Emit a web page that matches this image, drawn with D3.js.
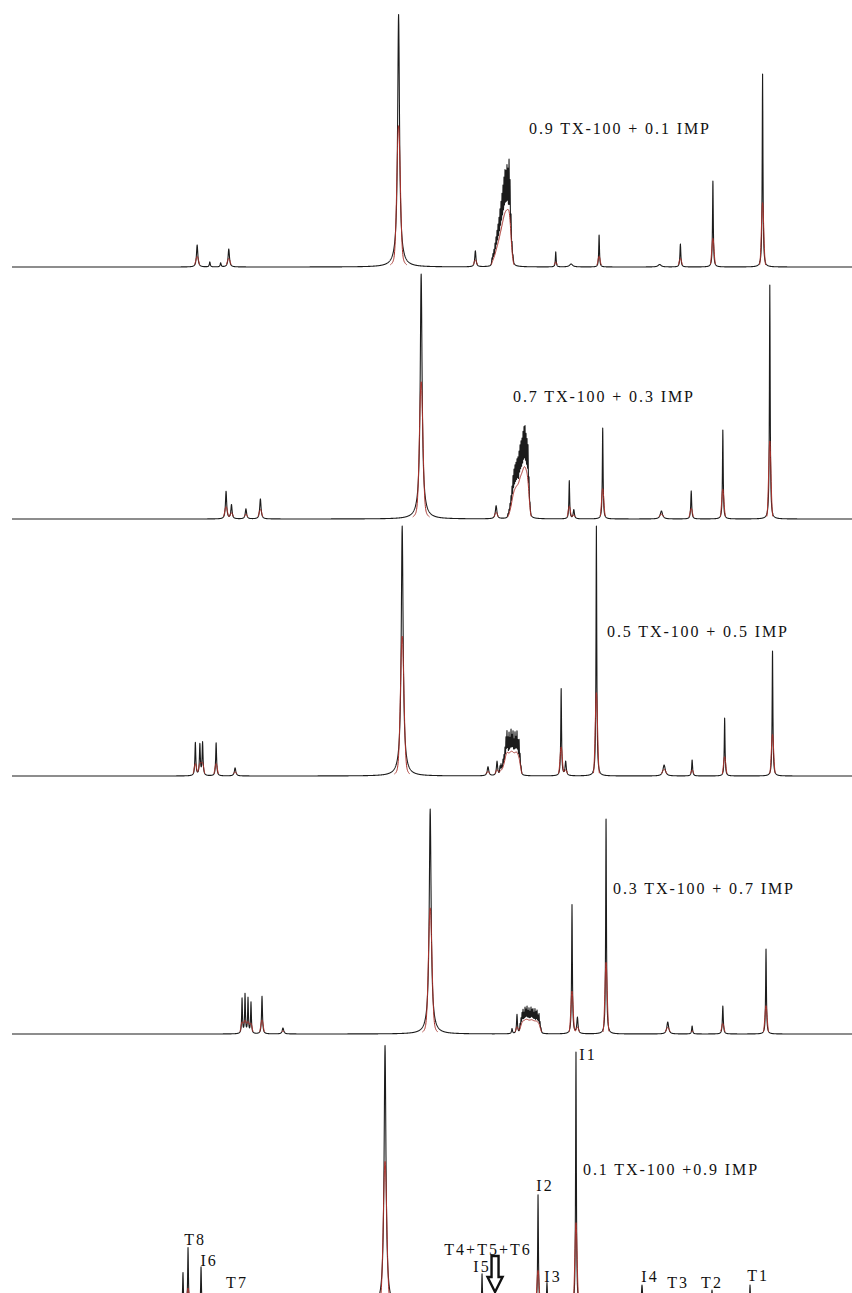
<!DOCTYPE html>
<html>
<head>
<meta charset="utf-8">
<script src="https://cdn.jsdelivr.net/npm/d3@7"></script>
<style>
  html, body { margin: 0; padding: 0; background: #fff; }
  svg { display: block; }
</style>
</head>
<body>
<svg id="chart" width="852" height="1293"></svg>
<script>
// Chemical-shift window in ppm (downfield on the left)
const shiftRange = [9.0, -0.3];

// Mixture composition of each stacked 1H spectrum, top to bottom
const compositions = [
  "0.9 TX-100 + 0.1 IMP",
  "0.7 TX-100 + 0.3 IMP",
  "0.5 TX-100 + 0.5 IMP",
  "0.3 TX-100 + 0.7 IMP",
  "0.1 TX-100 +0.9 IMP"
];

// Resolved lines: [shift (ppm), intensity, half-width (ppm)]
const peaks09 = [
  [6.95, 8.8, 0.009], [6.81, 2.0, 0.006], [6.69, 1.6, 0.006], [6.60, 7.2, 0.009],
  [4.72, 96, 0.012], [4.72, 5, 0.05], [3.87, 6.4, 0.008],
  [2.98, 6.0, 0.005], [2.81, 1.2, 0.02], [2.50, 12.8, 0.005], [1.83, 1.0, 0.02],
  [1.60, 9.2, 0.006], [1.24, 34.4, 0.005], [0.69, 77.2, 0.005]
];
const peaks07 = [
  [6.63, 11, 0.008], [6.57, 5.6, 0.008], [6.41, 4.0, 0.009], [6.25, 8.0, 0.009],
  [4.47, 93, 0.012], [4.47, 5, 0.05], [3.64, 5.2, 0.01],
  [2.83, 15.2, 0.005], [2.78, 3.6, 0.008], [2.46, 36.4, 0.005], [1.81, 3.2, 0.015],
  [1.48, 11.2, 0.006], [1.13, 35.6, 0.005], [0.61, 93.6, 0.005]
];
const peaks05 = [
  [6.97, 13.2, 0.006], [6.92, 12.4, 0.006], [6.89, 13.2, 0.006], [6.74, 13.2, 0.006],
  [6.53, 3.2, 0.01], [4.68, 95, 0.012], [4.68, 5, 0.045], [3.73, 3.6, 0.01],
  [3.63, 5.6, 0.008], [2.92, 34.8, 0.005], [2.87, 5.6, 0.008], [2.53, 100, 0.005],
  [1.78, 4.4, 0.015], [1.47, 6.4, 0.006], [1.11, 23.2, 0.005], [0.58, 50, 0.005]
];
const peaks03 = [
  [6.453, 14, 0.005], [6.420, 15.6, 0.005], [6.387, 14, 0.005], [6.354, 12.4, 0.005],
  [6.232, 15, 0.006], [6.000, 2.4, 0.01], [4.37, 85, 0.012], [4.37, 5, 0.045],
  [3.464, 2.0, 0.006], [3.409, 7.6, 0.006], [2.80, 51.6, 0.005], [2.74, 6.4, 0.008],
  [2.423, 86, 0.005], [1.74, 4.8, 0.012], [1.47, 3.2, 0.006], [1.13, 11.2, 0.006],
  [0.652, 34, 0.005]
];
const peaks01 = [
  [7.107, 14, 0.005], [7.051, 24, 0.005], [6.907, 16.4, 0.005], [6.520, 5, 0.008],
  [4.870, 100, 0.012], [4.870, 5, 0.045], [3.796, 13.6, 0.005], [3.176, 45.2, 0.005],
  [3.077, 10, 0.006], [2.756, 102.4, 0.005], [2.025, 9.2, 0.008], [1.626, 5, 0.008],
  [1.250, 7.2, 0.006], [0.829, 9.2, 0.005]
];

// Oxyethylene multiplet components: [shift (ppm), intensity]
const multiplet09 = [
  [3.686, 2.5], [3.675, 3.7], [3.664, 4.9], [3.652, 6.8], [3.641, 8.6], [3.630, 10.5],
  [3.619, 12.3], [3.608, 14.2], [3.597, 16.9], [3.586, 19.1], [3.575, 21.5], [3.564, 24.0],
  [3.553, 26.5], [3.542, 29.2], [3.531, 28.3], [3.520, 30.8], [3.509, 29.5], [3.497, 34.5],
  [3.486, 27], [3.475, 15], [3.464, 6], [3.453, 2.5]
];
const multiplet07 = [
  [3.509, 1.2], [3.497, 2.4], [3.486, 4.1], [3.475, 6.5], [3.464, 9.4], [3.453, 12.9],
  [3.442, 14.7], [3.431, 15.9], [3.420, 16.5], [3.409, 17.6], [3.398, 18.2], [3.386, 20],
  [3.375, 21.8], [3.364, 22.9], [3.353, 23.5], [3.342, 25.9], [3.331, 27.6], [3.320, 28.2],
  [3.309, 25.3], [3.298, 24.1], [3.287, 23.5], [3.276, 11.8], [3.265, 3.5]
];
const multiplet05 = [
  [3.597, 2.9], [3.586, 3.5], [3.575, 2.4], [3.564, 4.7], [3.553, 5.9], [3.542, 8.2],
  [3.531, 11.8], [3.520, 14.1], [3.509, 11.2], [3.497, 13.5], [3.486, 10.6], [3.475, 14.4],
  [3.464, 11.8], [3.453, 13.8], [3.442, 10], [3.431, 13.5], [3.420, 11.2], [3.409, 14.1],
  [3.398, 10.6], [3.386, 11.8], [3.375, 6.5], [3.364, 2.4]
];
const multiplet03 = [
  [3.375, 2.9], [3.364, 4.7], [3.353, 6.5], [3.342, 7.6], [3.331, 5.9], [3.320, 8.2],
  [3.309, 7.1], [3.298, 8.5], [3.287, 6.5], [3.276, 7.9], [3.265, 6.2], [3.254, 8.2],
  [3.243, 7.1], [3.232, 7.6], [3.221, 5.9], [3.210, 7.9], [3.198, 6.5], [3.187, 7.4],
  [3.176, 5.3], [3.165, 6.5], [3.154, 3.5], [3.143, 1.5]
];
const multiplet01 = [
  [3.686, 2], [3.675, 3], [3.664, 4], [3.652, 5], [3.641, 4], [3.630, 3]
];

// Signal assignments in the 0.1 TX-100 spectrum: [label, shift (ppm)]
const assignments = [
  ["I1", 2.756], ["I2", 3.176], ["I3", 3.077], ["I4", 2.025], ["I5", 3.796],
  ["I6", 6.907], ["T1", 0.829], ["T2", 1.250], ["T3", 1.626], ["T7", 6.520],
  ["T8", 7.051], ["T4+T5+T6", 3.652]
];

// ---------------------------------------------------------------------------
const W = 852, H = 1293;
const MULT_WIDTH = 0.004;   // half-width of multiplet components
const BROADEN = 0.01;       // extra broadening of the smoothed (red) trace
const baselines = [267, 519, 776, 1034, 1308];
const unitPx = 2.5;
const textAnchors = [[529, 134], [513, 402], [607, 637], [613, 894], [583, 1175]];

const svg = d3.select("#chart");
const x = d3.scaleLinear().domain(shiftRange).range([12, W]);

const spectra = [
  { peaks: peaks09, mult: multiplet09 },
  { peaks: peaks07, mult: multiplet07 },
  { peaks: peaks05, mult: multiplet05 },
  { peaks: peaks03, mult: multiplet03 },
  { peaks: peaks01, mult: multiplet01 }
];

// raw spectrum: sum of Lorentzian lines
function lorentzSum(lines, p) {
  let s = 0;
  for (const [c, h, g] of lines) {
    const d = (p - c) / g;
    s += h / (1 + d * d);
  }
  return s;
}
// smoothed trace: each line broadened, area-preserving, Gaussian-shaped
function smoothSum(lines, p) {
  let s = 0;
  for (const [c, h, g] of lines) {
    const G = g + BROADEN;
    const d = (p - c) / G;
    s += h * (g / G) * Math.exp(-Math.LN2 * d * d);
  }
  return s;
}

const fontSerif = "'Liberation Serif', 'Times New Roman', serif";

spectra.forEach((spec, i) => {
  const lines = spec.peaks.concat(spec.mult.map(([c, h]) => [c, h, MULT_WIDTH]));
  const y = d3.scaleLinear().domain([0, 100]).range([baselines[i], baselines[i] - 100 * unitPx]);

  // sampling grid in pixel space plus every line centre
  const pxGrid = d3.range(12, W + 0.001, 0.2).concat(lines.map(l => x(l[0])));
  pxGrid.sort((a, b) => a - b);
  const pts = pxGrid.map(px => {
    const p = x.invert(px);
    return { p, v: lorentzSum(lines, p), r: smoothSum(lines, p) };
  });

  const g = svg.append("g").attr("class", "spectrum");

  g.append("path")
    .datum(pts)
    .attr("fill", "none")
    .attr("stroke", "#1c1c1c")
    .attr("stroke-width", 1.1)
    .attr("stroke-linejoin", "round")
    .attr("d", d3.line().x(d => x(d.p)).y(d => y(d.v)));

  g.append("path")
    .datum(pts)
    .attr("fill", "none")
    .attr("stroke", "#a8312b")
    .attr("stroke-width", 1)
    .attr("d", d3.line().defined(d => d.r > 0.8).x(d => x(d.p)).y(d => y(d.v * 0 + d.r)));

  g.append("text")
    .attr("x", textAnchors[i][0])
    .attr("y", textAnchors[i][1])
    .attr("font-family", fontSerif)
    .attr("font-size", 16)
    .attr("letter-spacing", 1.9)
    .attr("fill", "#111")
    .text(compositions[i]);

  spec.y = y;
  spec.lines = lines;
});

// Peak labels on the bottom spectrum
const bottom = spectra[4];
const labelShift = {
  "I1": [12, 8], "I2": [7, -4], "I3": [6, -1], "I4": [8, -3], "I5": [0, -2],
  "I6": [8, -1], "T1": [8, -4], "T2": [0, -2], "T3": [0, -7], "T7": [1, -7],
  "T8": [7, -3], "T4+T5+T6": [-7, -38]
};
svg.append("g").selectAll("text")
  .data(assignments)
  .join("text")
  .attr("x", d => x(d[1]) + labelShift[d[0]][0])
  .attr("y", d => bottom.y(lorentzSum(bottom.lines, d[1])) + labelShift[d[0]][1])
  .attr("text-anchor", "middle")
  .attr("font-family", fontSerif)
  .attr("font-size", 16)
  .attr("letter-spacing", 2)
  .attr("fill", "#111")
  .text(d => d[0]);

// Hollow arrow pointing at the overlapped T4+T5+T6 signals
const ax = x(3.652);
const aTop = 1256, aNeck = 1277, aTip = 1292, shaft = 3.5, head = 7.5;
svg.append("path")
  .attr("d", `M${ax - shaft},${aTop} L${ax + shaft},${aTop} L${ax + shaft},${aNeck} L${ax + head},${aNeck} L${ax},${aTip} L${ax - head},${aNeck} L${ax - shaft},${aNeck} Z`)
  .attr("fill", "#fff")
  .attr("stroke", "#111")
  .attr("stroke-width", 2.4)
  .attr("stroke-linejoin", "miter");
</script>
</body>
</html>
